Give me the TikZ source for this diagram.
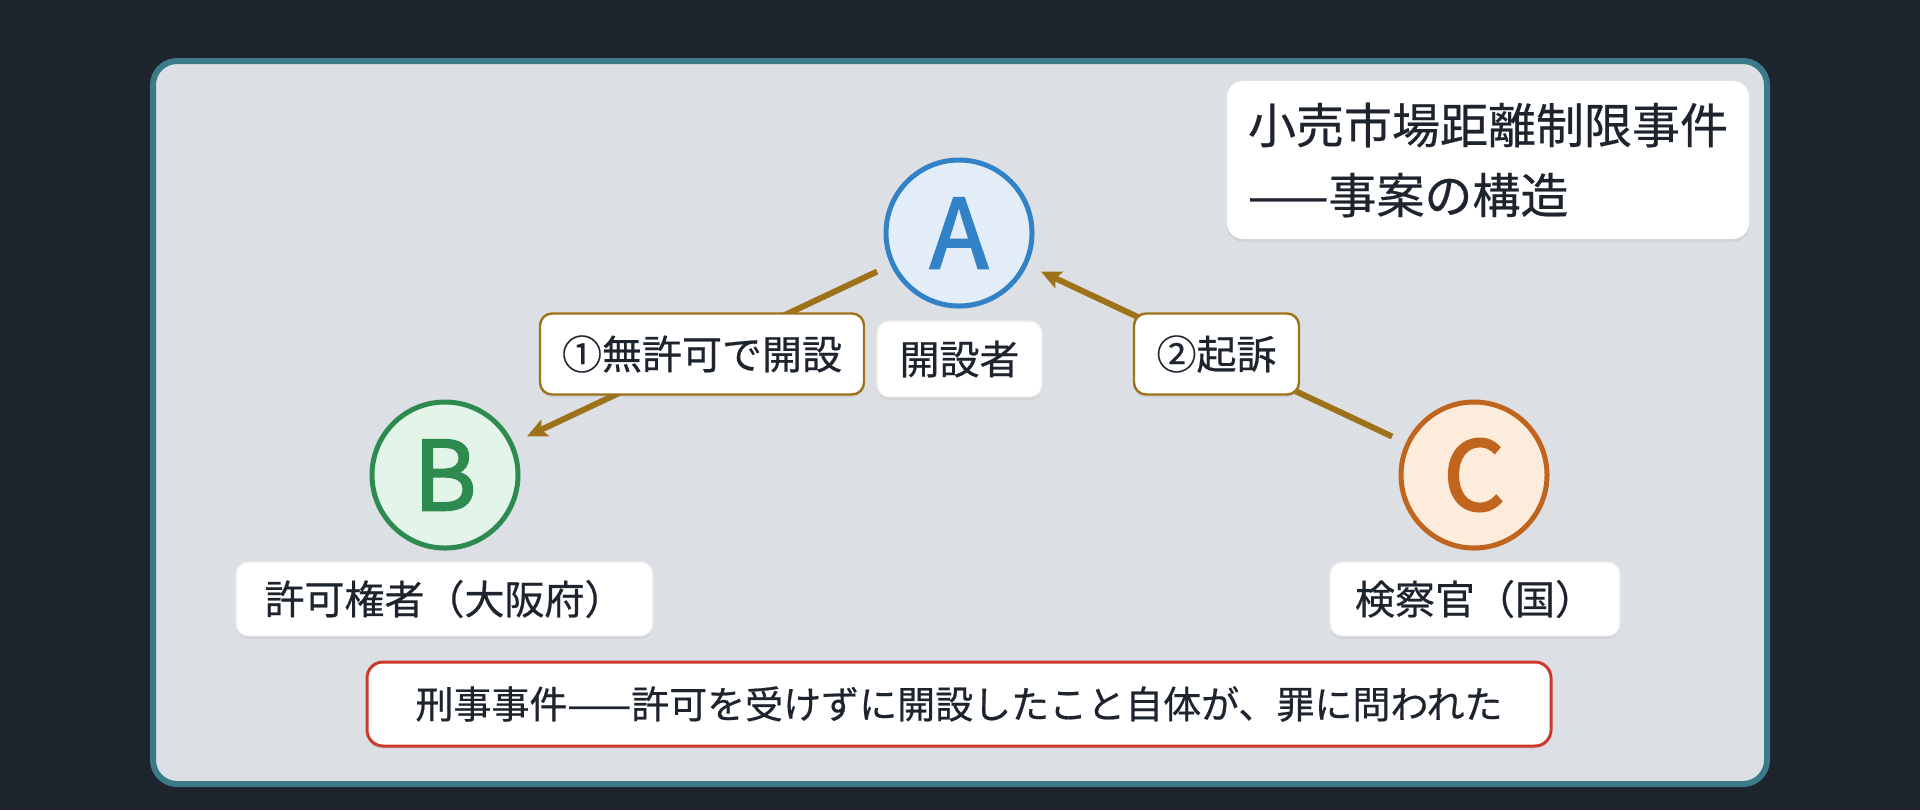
\documentclass[tikz,border=0pt]{standalone}
\usepackage{fontspec}
\setmainfont{Noto Sans CJK JP}[FakeBold=0.5]
\newfontfamily\letterfont{Noto Sans CJK JP}[FakeBold=2.2]
\usepackage{tikz}
\usetikzlibrary{arrows.meta, shadows}

\definecolor{canvas}{HTML}{1E242E}
\definecolor{panelfill}{HTML}{DCE0E5}
\definecolor{panelrim}{HTML}{3A7A89}
\definecolor{ink}{HTML}{1E242E}
\definecolor{blueA}{HTML}{3282C8}
\definecolor{blueAfill}{HTML}{E3EDF8}
\definecolor{greenB}{HTML}{2E8B50}
\definecolor{greenBfill}{HTML}{E3F4E8}
\definecolor{orangeC}{HTML}{C0641E}
\definecolor{orangeCfill}{HTML}{FDECDC}
\definecolor{gold}{HTML}{9E7218}
\definecolor{alert}{HTML}{CC3A2A}

\begin{document}
\begin{tikzpicture} [x=0.5pt, y=-0.5pt,
	softshadow/.style={drop shadow={opacity=0.12, shadow xshift=0pt, shadow yshift=-1.5pt}},
	party/.style={circle, minimum size=73pt, inner sep=0pt, line width=2.5pt, softshadow,
		font=\fontsize{48}{48}\letterfont},
	rolebox/.style={rounded corners=6pt, fill=white, draw=black!8, line width=0.6pt, softshadow,
		inner sep=0pt, minimum height=37pt, text=ink, font=\fontsize{20}{24}\selectfont},
	edgebox/.style={rolebox, draw=gold, line width=1.2pt, minimum height=40.5pt},
	flow/.style={draw=gold, line width=3pt, -{Stealth[length=10pt, width=9pt, inset=2pt]},
		shorten <=7.5pt, shorten >=7.5pt}]
	%    background and panel
	\fill[canvas] (0,0) rectangle (1920,810);
	\draw[panelrim, fill=panelfill, line width=3pt, rounded corners=12pt] (153,61) rectangle (1767,784);
	
	\node[rolebox, draw=none, rounded corners=8pt, minimum width=261pt, minimum height=79pt,
		align=left, font=\fontsize{24}{35}\selectfont] (title) at (1488,160)
		{小売市場距離制限事件\\——事案の構造};
	
	\node[party, draw=blueA, fill=blueAfill, text=blueA] (partyA) at (959,233) {A};
	\node[party, draw=greenB, fill=greenBfill, text=greenB] (partyB) at (445,475) {B};
	\node[party, draw=orangeC, fill=orangeCfill, text=orangeC] (partyC) at (1474,475) {C};
	
	\node[rolebox, minimum width=82.5pt, minimum height=38pt] (roleA) at (959.5,359) {開設者};
	\node[rolebox, minimum width=208.5pt] (roleB) at (444.5,599) {許可権者（大阪府）};
	\node[rolebox, minimum width=145pt] (roleC) at (1475,599) {検察官（国）};
	
	\draw[flow] (partyA) -- (partyB)
		node[midway, edgebox, minimum width=162pt] (edgeOne) {①無許可で開設};
	\draw[flow] (partyC) -- (partyA)
		node[midway, edgebox, minimum width=82.5pt] (edgeTwo) {②起訴};
	
	\node[rolebox, draw=alert, line width=1.5pt, rounded corners=8pt, minimum width=592pt,
		minimum height=42pt, font=\fontsize{19}{23}\selectfont] (note) at (959,704)
		{刑事事件——許可を受けずに開設したこと自体が、罪に問われた};
\end{tikzpicture}
\end{document}
